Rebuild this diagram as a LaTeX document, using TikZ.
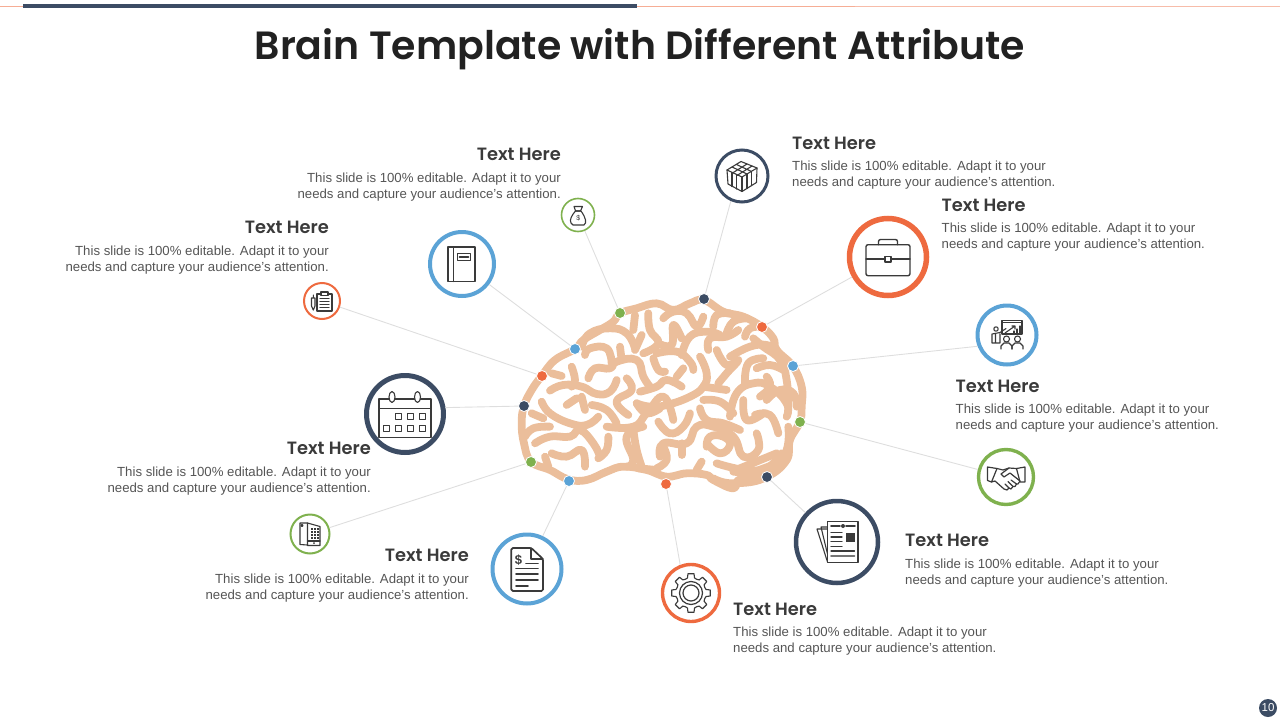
\documentclass[tikz,border=0pt]{standalone}
\usepackage{fontspec}
\usepackage{tikz}
\setmainfont{Liberation Sans}
\newfontfamily\headfont{Poppins}[BoldFont={Poppins SemiBold}]
\definecolor{navy}{HTML}{3C4C64}
\definecolor{skyb}{HTML}{5BA3D6}
\definecolor{flame}{HTML}{EE6A3F}
\definecolor{leaf}{HTML}{7FB14E}
\definecolor{tan}{HTML}{EBBE9B}
\definecolor{ink}{HTML}{3A3A3A}
\definecolor{greyt}{HTML}{555555}
\tikzset{
	ring/.style={circle, draw=#1, fill=white, inner sep=0pt},
	dotn/.style={circle, fill=#1, draw=white, line width=0.8pt, minimum size=11pt, inner sep=0pt},
	link/.style={draw=black!13, line width=0.9pt},
	icon/.style={draw=ink, line width=1.1pt, line join=round, line cap=round},
	iconb/.style={draw=ink, line width=1.7pt, line join=round, line cap=round},
	gyrus/.style={draw=tan, line width=7.8pt, line cap=round, line join=round},
	headl/.style={anchor=west, inner sep=0pt, text=ink, font=\headfont\bfseries\fontsize{17.8}{20}\selectfont},
	headr/.style={anchor=east, inner sep=0pt, text=ink, font=\headfont\bfseries\fontsize{17.8}{20}\selectfont},
	bodyl/.style={anchor=west, inner sep=0pt, align=left, text=greyt, font=\fontsize{13.2}{16}\selectfont},
	bodyr/.style={anchor=east, inner sep=0pt, align=right, text=greyt, font=\fontsize{13.2}{16}\selectfont},
}
\newcommand{\gyr}[1]{\draw[gyrus] plot[smooth, tension=0.8] coordinates {#1};}
\newcommand{\blurb}{This slide is 100\% editable. Adapt it to your\\needs and capture your audience's attention.}

\begin{document}
\begin{tikzpicture}[x=1pt, y=-1pt]
	\useasboundingbox (0,0) rectangle (1280,720);

	% Top bar
	\draw[flame!55, line width=0.8pt] (0,6.5) -- (855,6.5);
	\draw[flame!45, line width=1.2pt] (855,6.5) -- (1280,6.5);
	\fill[navy] (23,4) rectangle (637,7.7);

	% Title
	\node[inner sep=0pt, text=black!87, font=\headfont\bfseries\fontsize{39.4}{46}\selectfont] (title) at (640,49) {Brain Template with Different Attribute};

	% --- Brain ---
	\begin{scope}[shift={(500,280)}, x=0.3333pt, y=-0.3333pt]
		\draw[gyrus] plot[smooth cycle, tension=0.7] coordinates {(93,545) (72,490) (65,430) (72,378) (95,330) (125,288) (165,240) (225,207) (250,180) (300,150) (340,125) (360,100) (410,85) (470,70) (520,90) (570,70) (612,60) (670,95) (730,110) (785,140) (820,175) (830,210) (878,258) (905,320) (905,380) (900,425) (870,480) (860,540) (800,590) (720,598) (700,625) (640,600) (620,585) (560,580) (500,590) (440,570) (370,560) (320,575) (260,600) (205,598) (150,570)};
		\gyr{(155,280) (185,288)}
		\gyr{(215,260) (225,300) (215,320)}
		\gyr{(150,332) (190,315) (245,320) (290,342) (330,335) (350,300)}
		\gyr{(265,295) (285,265) (330,265) (350,245) (410,240) (430,290) (450,320)}
		\gyr{(255,225) (270,205) (320,205) (335,250)}
		\gyr{(245,200) (270,160) (330,145) (380,160) (405,205)}
		\gyr{(360,200) (365,240)}
		\gyr{(405,210) (425,165)}
		\gyr{(400,150) (405,105)}
		\gyr{(445,100) (450,150) (475,190) (430,220)}
		\gyr{(475,190) (515,195) (520,135) (545,175)}
		\gyr{(490,115) (520,95) (560,100) (590,140) (610,110)}
		\gyr{(640,140) (650,105) (690,100)}
		\gyr{(680,160) (700,125) (740,115)}
		\gyr{(625,210) (630,175) (680,170) (715,150)}
		\gyr{(545,225) (570,170) (620,155) (660,165)}
		\gyr{(460,235) (475,270) (495,275)}
		\gyr{(470,220) (530,215) (570,245) (580,270)}
		\gyr{(600,230) (620,280) (610,320) (570,350) (500,375) (450,380) (410,370)}
		\gyr{(545,320) (500,300) (470,320) (420,335)}
		\gyr{(530,290) (550,265)}
		\gyr{(650,210) (680,255) (715,240) (680,280) (655,310)}
		\gyr{(610,320) (680,330)}
		\gyr{(690,230) (750,200) (800,195) (830,210)}
		\gyr{(760,175) (790,200) (840,240) (860,300) (865,380)}
		\gyr{(735,170) (750,145) (785,140)}
		\gyr{(735,310) (745,250) (790,235)}
		\gyr{(770,265) (810,255) (850,270)}
		\gyr{(800,290) (810,320) (780,350)}
		\gyr{(690,410) (710,340) (760,310) (810,320) (860,370) (860,410)}
		\gyr{(800,360) (840,330) (880,340) (890,380)}
		\gyr{(765,405) (810,405) (835,460)}
		\gyr{(610,360) (660,365) (700,400)}
		\gyr{(600,385) (620,420) (670,430) (720,450)}
		\gyr{(730,360) (740,420) (790,400)}
		\gyr{(770,460) (775,510) (730,530) (700,470) (640,440) (590,440) (560,490) (490,490) (480,530)}
		\gyr{(865,440) (860,510) (820,560) (740,570) (650,550)}
		\gyr{(545,525) (545,490)}
		\gyr{(470,565) (500,540) (490,500)}
		\gyr{(590,570) (605,545)}
		\gyr{(620,500) (630,470) (670,470) (690,495) (660,520) (620,490)}
		\gyr{(475,425) (510,460) (550,440) (570,400)}
		\gyr{(380,295) (395,330) (350,365) (385,405)}
		\gyr{(320,440) (400,440) (440,400) (490,350) (520,420)}
		\gyr{(410,370) (440,400) (480,385)}
		\gyr{(430,440) (380,470) (400,540) (380,560)}
		\gyr{(400,450) (410,510) (425,560)}
		\gyr{(150,440) (100,445) (75,470)}
		\gyr{(105,490) (150,470) (210,470) (240,450) (280,490) (300,530)}
		\gyr{(125,365) (150,400) (210,430) (260,435) (295,410)}
		\gyr{(200,375) (230,355)}
		\gyr{(255,390) (245,350)}
		\gyr{(275,375) (320,390) (350,430)}
		\gyr{(325,470) (320,510) (295,535)}
		\gyr{(155,520) (200,530) (245,510) (255,560)}
		\gyr{(135,530) (145,560)}
		\gyr{(95,400) (130,415)}
		\gyr{(415,565) (470,570)}
		\gyr{(640,595) (700,610) (800,590) (830,530)}
		\gyr{(720,565) (830,520)}
		\gyr{(860,540) (750,580)}
		\gyr{(700,575) (790,570) (845,520)}
	\end{scope}

	% --- Rings ---
	\node[ring=leaf, line width=1.6pt, minimum size=33pt] (money) at (578,215) {};
	\node[ring=navy, line width=3pt, minimum size=52pt] (crate) at (742,176) {};
	\node[ring=flame, line width=5.5pt, minimum size=77pt] (brief) at (888,257) {};
	\node[ring=skyb, line width=4pt, minimum size=59pt] (board) at (1007,335) {};
	\node[ring=leaf, line width=3.4pt, minimum size=55pt] (shake) at (1006,477) {};
	\node[ring=navy, line width=4.5pt, minimum size=82pt] (paper) at (837,542) {};
	\node[ring=flame, line width=3.4pt, minimum size=57pt] (gear) at (691,593) {};
	\node[ring=skyb, line width=4pt, minimum size=69pt] (bill) at (527,569) {};
	\node[ring=leaf, line width=2pt, minimum size=39pt] (phone) at (310,534) {};
	\node[ring=navy, line width=5pt, minimum size=77pt] (cal) at (405,414) {};
	\node[ring=flame, line width=2pt, minimum size=36pt] (clip) at (322,301) {};
	\node[ring=skyb, line width=4pt, minimum size=64pt] (book) at (462,264) {};

	% --- Dots on the brain ---
	\node[dotn=leaf] (dmoney) at (620,313) {};
	\node[dotn=navy] (dcrate) at (704,299) {};
	\node[dotn=flame] (dbrief) at (762,327) {};
	\node[dotn=skyb] (dboard) at (793,366) {};
	\node[dotn=leaf] (dshake) at (800,422) {};
	\node[dotn=navy] (dpaper) at (767,477) {};
	\node[dotn=flame] (dgear) at (666,484) {};
	\node[dotn=skyb] (dbill) at (569,481) {};
	\node[dotn=leaf] (dphone) at (531,462) {};
	\node[dotn=navy] (dcal) at (524,406) {};
	\node[dotn=flame] (dclip) at (542,376) {};
	\node[dotn=skyb] (dbook) at (575,349) {};

	% Connectors
	\foreach \n in {money,brief,shake,paper,bill,phone,clip,book}
		\draw[link] (\n) -- (d\n);
	\draw[link] (crate.246) -- (dcrate);
	\draw[link] (board.201) -- (dboard);
	\draw[link] (gear.111) -- (dgear);
	\draw[link] (cal.9) -- (dcal);

	% --- Icons ---
	% book
	\begin{scope}[shift={(462,264)}]
		\draw[icon] (-14,-17) rectangle (13,17.5);
		\draw[icon] (-8.5,-17) -- (-8.5,17.5);
		\draw[icon] (-4.7,-10.7) rectangle (8.7,-3.3);
		\draw[iconb] (-2.5,-7) -- (6.5,-7);
	\end{scope}
	% money bag
	\begin{scope}[shift={(578,215)}]
		\draw[icon] (-2.5,-4) .. controls (-6,0) and (-9,5) .. (-7,8) -- (-5,10) -- (6,10) .. controls (9,8) and (8,3) .. (3,-4) -- cycle;
		\draw[icon] (-4,-8.5) -- (4.5,-8.5) -- (2.5,-4) -- (-2.5,-4) -- cycle;
		\node[inner sep=0pt, text=ink, font=\fontsize{7}{7}\selectfont] (moneysign) at (0.3,3.5) {\$};
	\end{scope}
	% crate
	\begin{scope}[shift={(742,176)}]
		\draw[icon] (-15,-6) -- (-1,-14.5) -- (15,-8) -- (0,1) -- cycle;
		\draw[icon] (-15,-6) -- (-14,8) -- (0,15.5) -- (14.5,6.5) -- (15,-8);
		\draw[icon] (0,1) -- (0,15.5);
		\draw[icon] (-10,-3.5) -- (-10,10.5) (-5.5,-1) -- (-5.5,13) (5,-2) -- (5,12.5) (9.5,-4.5) -- (9.5,9.5);
		\draw[icon] (-10,-9) -- (5,-2) (-5.5,-11.5) -- (9.5,-4.5) (-9.5,-3) -- (5,-12) (-5,-.5) -- (10,-10);
	\end{scope}
	% briefcase
	\begin{scope}[shift={(888,257)}]
		\draw[icon, line width=1.4pt, rounded corners=2pt] (-22,-12.3) rectangle (22,18.7);
		\draw[icon, line width=1.4pt, rounded corners=2pt] (-9.5,-12.3) -- (-9.5,-17.5) -- (9.5,-17.5) -- (9.5,-12.3);
		\draw[icon, line width=1.4pt] (-22,2) -- (-3,2) (3,2) -- (22,2);
		\draw[icon, line width=1.4pt] (-3,-0.5) rectangle (3,5);
	\end{scope}
	% presentation
	\begin{scope}[shift={(1007,335)}]
		\draw[icon] (-5,-14.5) rectangle (15,-1);
		\draw[icon] (-5,-12.5) -- (15,-12.5);
		\draw[icon] (-2,-2) -- (8,-9) (5,-9) -- (8,-9) -- (8,-6);
		\draw[icon] (7,-1) -- (7,-4) (10,-1) -- (10,-6) (13,-1) -- (13,-9);
		\draw[icon] (-11,-6) circle (2.2pt);
		\draw[icon] (-15,8) -- (-15,-1) -- (-7,-2.5) -- (-1,-6.5) (-7,-1) -- (-7,8) -- (-15,8) (-11.5,-1) -- (-11.5,8);
		\draw[icon] (-0.5,4) circle (3pt);
		\draw[icon] (10.5,4) circle (3pt);
		\draw[icon] (-6,14) -- (-6,11) -- (-3,8) -- (2,8) -- (5,11) -- (5,14);
		\draw[icon] (5,14) -- (5,11) -- (8,8) -- (13,8) -- (16,11) -- (16,14);
	\end{scope}
	% handshake
	\begin{scope}[shift={(1006,477)}]
		\draw[icon, line width=1.2pt] (-18.5,-10) -- (-9,-8.5) -- (-14.5,5) -- (-18.5,3.5) -- cycle;
		\draw[icon, line width=1.2pt] (19,-10) -- (10.5,-8.5) -- (14,5) -- (19,5) -- cycle;
		\draw[icon, line width=1.2pt] (-9,-8.5) -- (-3,-7) -- (3,-9) -- (10.5,-8.5);
		\draw[icon, line width=1.2pt] (3,-9) -- (-5,-3) -- (-2,0) -- (4,-4) -- (14,4);
		\draw[icon, line width=1.2pt] (-14.5,5) -- (-11,4) -- (-2,12) -- (1,13) -- (3,11) -- (5,12) -- (7,9.5) -- (9,9.5) -- (10.5,7) -- (12,7) -- (14,4);
		\draw[icon, line width=1.2pt] (-1,7) -- (3,11) (2,4.5) -- (7,9.5) (5,3) -- (10.5,7);
	\end{scope}
	% newspaper
	\begin{scope}[shift={(837,542)}]
		\draw[icon] (-9.5,-13) -- (-20,-13) -- (-9.5,20);
		\draw[icon] (-9.5,-15) -- (-16,-15) -- (-9.5,12);
		\draw[icon, fill=white] (-9.5,-20.5) rectangle (21,20.5);
		\draw[iconb] (-6,-16) -- (3,-16) (9,-16) -- (18,-16);
		\fill[ink] (6,-16) circle (2pt);
		\fill[ink] (9,-9) rectangle (17.5,0);
		\draw[icon] (-6,-9.5) -- (5,-9.5) (-6,-5) -- (5,-5) (-6,-0.5) -- (5,-0.5) (-6,4.5) -- (5,4.5) (-6,9) -- (17.5,9);
		\draw[iconb, ink!70] (-6,14) -- (17.5,14);
	\end{scope}
	% gear
	\begin{scope}[shift={(691,593)}]
		\foreach \a in {0,45,...,315}
			\draw[icon] (\a-13:15.5) -- (\a-9:19.5) -- (\a+9:19.5) -- (\a+13:15.5) -- (\a+22.5:14.8) -- (\a+32:15.5);
		\draw[icon, line width=1.2pt] (0,0) circle (11.5pt);
		\draw[icon, line width=1.2pt] (0,0) circle (8pt);
	\end{scope}
	% invoice
	\begin{scope}[shift={(527,569)}]
		\draw[iconb, rounded corners=1.5pt] (4.3,-21) -- (-15.7,-21) -- (-15.7,22) -- (16,22) -- (16,-10) -- cycle;
		\draw[iconb] (4.3,-21) -- (4.3,-10) -- (16,-10);
		\node[inner sep=0pt, text=ink, font=\bfseries\fontsize{13}{13}\selectfont] (billsign) at (-8.5,-8.5) {\$};
		\draw[iconb] (-1,-5.5) -- (11,-5.5) (-11,-0.5) -- (11,-0.5) (-11,5.3) -- (11,5.3) (-11,11) -- (11,11) (-11,17) -- (1,17);
	\end{scope}
	% phone
	\begin{scope}[shift={(310,534)}]
		\draw[icon] (-10,-11) -- (-2.5,-11) (-10,-11) -- (-10,10.5) -- (-2.5,11);
		\draw[icon] (-8,-8.5) circle (1pt);
		\draw[icon] (-2.5,-11) -- (10,-7.5) -- (10,11.5) -- (-2.5,11.5) -- cycle;
		\draw[icon] (-2.5,7) -- (10,7);
		\foreach \i in {0,1,2}
			\foreach \j in {0,1,2,3}
				\fill[ink] (0.5+3*\i,-6+3*\j) rectangle +(2,2);
		\fill[ink] (4,9.2) circle (1pt);
	\end{scope}
	% calendar
	\begin{scope}[shift={(405,414)}]
		\draw[icon] (-26,-15) rectangle (26,23.3);
		\draw[icon] (-26,-5.7) -- (26,-5.7);
		\draw[icon, fill=white] (-13,-17) ellipse (3pt and 5.5pt);
		\draw[icon, fill=white] (12.5,-17) ellipse (3pt and 5.5pt);
		\foreach \x in {-6.7,5.7,17.7}
			\draw[icon] (\x-3.2,2.7-3.2) rectangle +(6.4,6.4);
		\foreach \x in {-18.3,-6.7,5.7,17.7}
			\draw[icon] (\x-3.2,14.7-3.2) rectangle +(6.4,6.4);
	\end{scope}
	% clipboard
	\begin{scope}[shift={(322,301)}]
		\draw[icon] (-5,-7) rectangle (10,10);
		\draw[icon, fill=white] (-1,-9) rectangle (6,-5.5);
		\draw[icon] (-2,-2.5) -- (7,-2.5) (-2,0.5) -- (7,0.5) (-2,3.5) -- (7,3.5) (-2,6.5) -- (7,6.5);
		\draw[icon] (-10.5,-3) -- (-7,-3) -- (-7,5) -- (-8.7,9) -- (-10.5,5) -- cycle (-8.7,-3) -- (-8.7,-6);
	\end{scope}

	% --- Texts ---
	\node[headr] (hmoney) at (561,154.5) {Text Here};
	\node[bodyr] (tmoney) at (561,187) {\blurb};
	\node[headl] (hcrate) at (792,143.5) {Text Here};
	\node[bodyl] (tcrate) at (792,175.5) {\blurb};
	\node[headl] (hbrief) at (941.5,205.5) {Text Here};
	\node[bodyl] (tbrief) at (941.5,237) {\blurb};
	\node[headl] (hboard) at (955.5,386.5) {Text Here};
	\node[bodyl] (tboard) at (955.5,418.5) {\blurb};
	\node[headl] (hpaper) at (905,540.5) {Text Here};
	\node[bodyl] (tpaper) at (905,573) {\blurb};
	\node[headl] (hgear) at (733,609.5) {Text Here};
	\node[bodyl] (tgear) at (733,641.5) {\blurb};
	\node[headr] (hbill) at (469,555.5) {Text Here};
	\node[bodyr] (tbill) at (469,588) {\blurb};
	\node[headr] (hcal) at (371,448.5) {Text Here};
	\node[bodyr] (tcal) at (371,481) {\blurb};
	\node[headr] (hclip) at (329,227.5) {Text Here};
	\node[bodyr] (tclip) at (329,260) {\blurb};

	% Page number
	\node[circle, fill=navy, text=white, inner sep=0pt, minimum size=18pt, font=\fontsize{11.5}{12}\selectfont] (pageno) at (1268,708) {10};
\end{tikzpicture}
\end{document}
